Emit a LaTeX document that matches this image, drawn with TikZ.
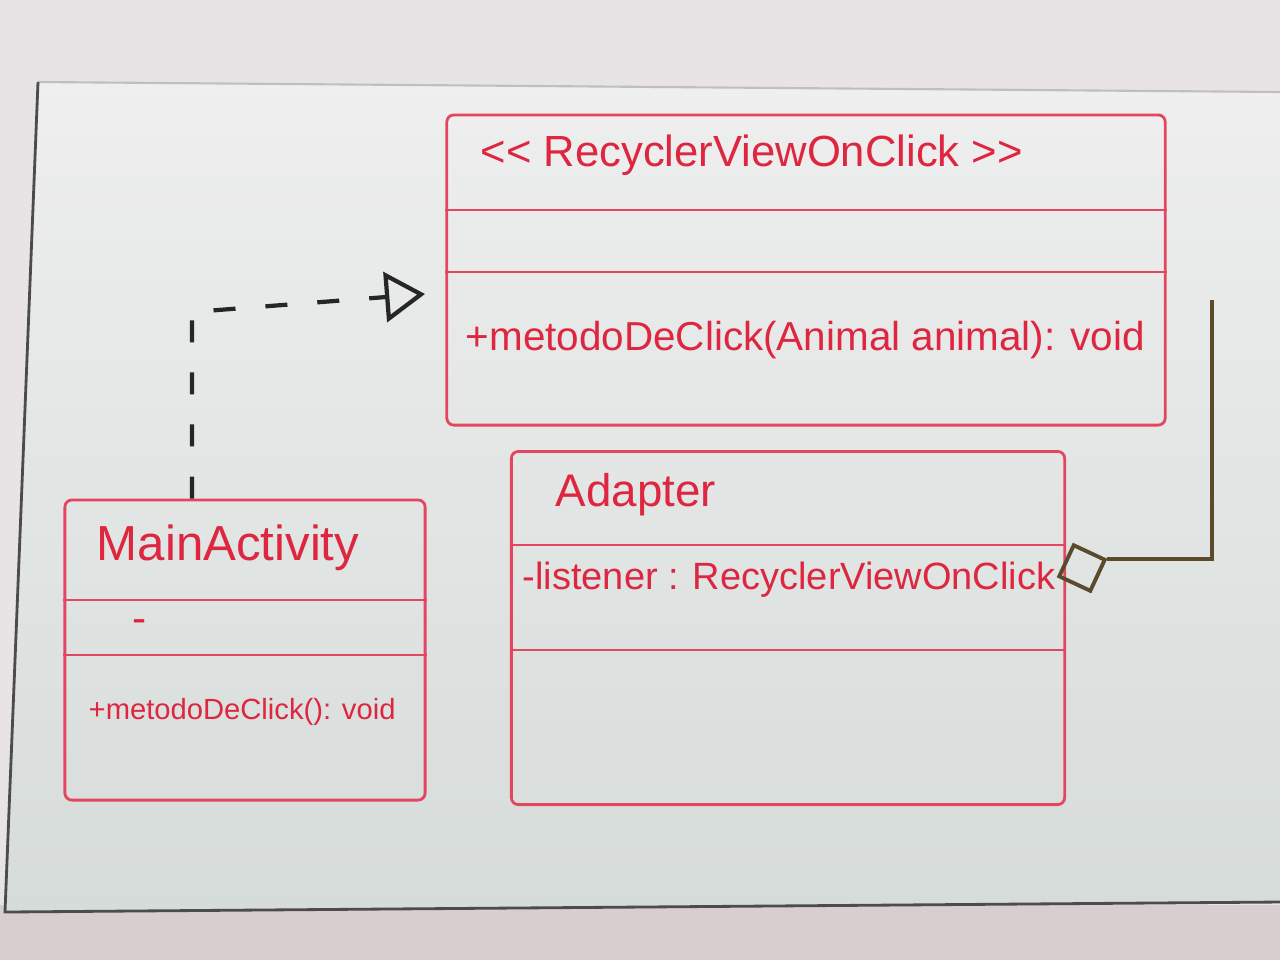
\documentclass[tikz,border=0pt]{standalone}
\usepackage{fontspec}
\setmainfont{Liberation Sans}
\usetikzlibrary{arrows.meta,shapes.geometric}
\definecolor{marker}{RGB}{222,38,64}
\definecolor{markerline}{RGB}{228,70,96}
\definecolor{boardtop}{RGB}{238,239,238}
\definecolor{boardbottom}{RGB}{214,220,218}
\definecolor{wall}{RGB}{232,227,228}
\definecolor{wallbottom}{RGB}{216,205,207}
\definecolor{brownmarker}{RGB}{92,74,44}
\tikzset{
  classbox/.style={draw=markerline, line width=0.8pt, rounded corners=2pt, inner sep=0pt},
  divider/.style={draw=markerline, line width=0.7pt},
  label/.style={text=marker, inner sep=0pt},
  realize/.style={draw=black!85, line width=1.2pt, dash pattern=on 2.2mm off 3mm,
    -{Triangle[open, length=4mm, width=5mm, line width=1.2pt]}},
  aggbox/.style={draw=brownmarker, line width=1.1pt, diamond, aspect=1, minimum size=5mm, inner sep=0pt},
  assoc/.style={draw=brownmarker, line width=1.1pt}
}
\begin{document}
\begin{tikzpicture}[x=0.01cm, y=-0.01cm]
  \useasboundingbox (0,0) rectangle (1280,960);
  % wall and board
  \fill[wall] (0,0) rectangle (1280,960);
  \fill[wallbottom] (0,905) rectangle (1280,960);
  \shade[top color=boardtop, bottom color=boardbottom]
    (38,82) -- (1280,92) -- (1280,902) -- (5,912) -- cycle;
  \draw[black!25, line width=0.6pt] (38,82) -- (1280,92);
  \draw[black!70, line width=0.8pt] (38,82) -- (5,912) -- (1280,902);

  % classes
  \node[classbox, minimum width=7.18cm, minimum height=3.10cm] (rv) at (806,270) {};
  \node[classbox, minimum width=3.60cm, minimum height=3.00cm] (ma) at (245,650) {};
  \node[classbox, minimum width=5.53cm, minimum height=3.53cm] (ad) at (788,628) {};

  \draw[divider] (rv.west |- 0,210) -- (rv.east |- 0,210);
  \draw[divider] (rv.west |- 0,272) -- (rv.east |- 0,272);
  \draw[divider] (ma.west |- 0,600) -- (ma.east |- 0,600);
  \draw[divider] (ma.west |- 0,655) -- (ma.east |- 0,655);
  \draw[divider] (ad.west |- 0,545) -- (ad.east |- 0,545);
  \draw[divider] (ad.west |- 0,650) -- (ad.east |- 0,650);

  \node[label, anchor=west, font=\fontsize{12.4}{14}\selectfont] (rvname) at (480,155)
    {{<}{<} RecyclerViewOnClick {>}{>}};
  \node[label, anchor=west, font=\fontsize{11.5}{13}\selectfont] (rvop) at (465,340)
    {+metodoDeClick(Animal animal): void};
  \node[label, font=\fontsize{14}{16}\selectfont] (maname) at (228,548) {MainActivity};
  \node[label, font=\fontsize{12}{14}\selectfont] (maattr) at (140,626) {-};
  \node[label, anchor=west, font=\fontsize{8.3}{10}\selectfont] (maop) at (88,712)
    {+metodoDeClick(): void};
  \node[label, anchor=west, font=\fontsize{13}{15}\selectfont] (adname) at (555,495) {Adapter};
  \node[label, anchor=west, font=\fontsize{10.8}{13}\selectfont] (adattr) at (522,580)
    {-listener : RecyclerViewOnClick};

  % relations
  \coordinate (bend) at (192,312);
  \coordinate (head) at (425,294);
  \draw[realize] (ma.north -| bend) -- (bend) -- (head);

  \node[aggbox, rotate=20] (agg) at (1082,568) {};
  \coordinate (top) at (1212,300);
  \draw[assoc] (agg.east) -| (top);
\end{tikzpicture}
\end{document}
